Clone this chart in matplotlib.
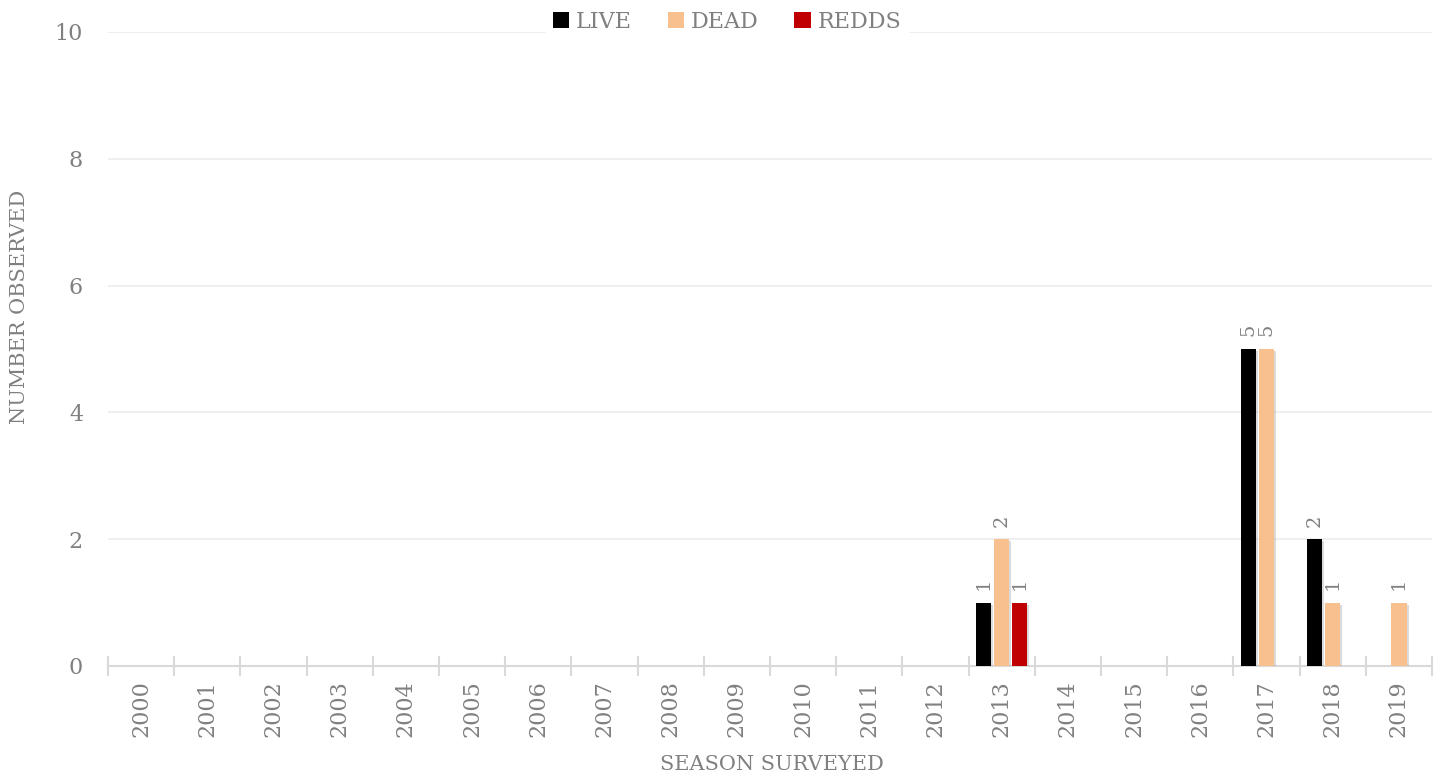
import numpy as np
import matplotlib
matplotlib.use("Agg")
import matplotlib.pyplot as plt
import matplotlib.patheffects as pe

# data
seasons = [str(y) for y in range(2000, 2020)]
live = [0, 0, 0, 0, 0, 0, 0, 0, 0, 0, 0, 0, 0, 1, 0, 0, 0, 5, 2, 0]
dead = [0, 0, 0, 0, 0, 0, 0, 0, 0, 0, 0, 0, 0, 2, 0, 0, 0, 5, 1, 1]
redds = [0, 0, 0, 0, 0, 0, 0, 0, 0, 0, 0, 0, 0, 1, 0, 0, 0, 0, 0, 0]

series = [("LIVE", live, "#000000"), ("DEAD", dead, "#f8bf8f"), ("REDDS", redds, "#c00000")]

grey = "#808080"
plt.rcParams['font.family'] = ['DejaVu Serif']

fig = plt.figure(figsize=(14.43, 7.77), dpi=100)
ax = fig.add_axes([108 / 1443, 1 - 666 / 777, (1432 - 108) / 1443, (666 - 32) / 777])

x = np.arange(len(seasons))
width = 0.23
step = 0.272
shadow = [pe.SimplePatchShadow(offset=(1.5, -1.5), shadow_rgbFace="#999999", alpha=0.35), pe.Normal()]

for i, (name, vals, col) in enumerate(series):
    bars = ax.bar(x + (i - 1) * step, vals, width, color=col, label=name, zorder=3)
    for b, v in zip(bars, vals):
        if v > 0:
            b.set_path_effects(shadow)
            ax.annotate(str(v), (b.get_x() + b.get_width() / 2, v), xytext=(0, 9),
                        textcoords="offset points", rotation=90, ha="center", va="bottom",
                        color=grey, fontsize=14)

ax.set_xlim(-0.5, len(seasons) - 0.5)
ax.set_ylim(0, 10)
ax.set_yticks([0, 2, 4, 6, 8, 10])
ax.grid(axis="y", color="#ececec", linewidth=1.2, zorder=0)
ax.set_axisbelow(True)

for s in ["top", "right", "left"]:
    ax.spines[s].set_visible(False)
ax.spines["bottom"].set_color("#d9d9d9")
ax.spines["bottom"].set_linewidth(1.5)

ax.set_xticks(x)
ax.set_xticklabels(seasons, rotation=90, color=grey, fontsize=16)
ax.set_xticks(np.arange(-0.5, len(seasons)), minor=True)
ax.tick_params(axis="x", which="major", length=0, pad=10)
ax.tick_params(axis="x", which="minor", length=14, direction="inout", color="#d9d9d9", width=1.5)
ax.tick_params(axis="y", length=0, pad=18, labelcolor=grey, labelsize=16)

fig.text(20 / 1443, 1 - 307 / 777, "NUMBER OBSERVED", rotation=90, ha="center", va="center",
         color=grey, fontsize=15)
fig.text(772 / 1443, 1 - 765 / 777, "SEASON SURVEYED", ha="center", va="center",
         color=grey, fontsize=15)

leg = fig.legend(loc="center", bbox_to_anchor=(727 / 1443, 1 - 22 / 777), ncol=3,
                 frameon=True, fontsize=16, handlelength=0.75, handleheight=0.75,
                 handletextpad=0.3, columnspacing=1.6, borderpad=0.3)
leg.get_frame().set_edgecolor("white")
leg.get_frame().set_facecolor("white")
leg.get_frame().set_alpha(1)
for t in leg.get_texts():
    t.set_color(grey)

fig.savefig("out.png", dpi=100)
